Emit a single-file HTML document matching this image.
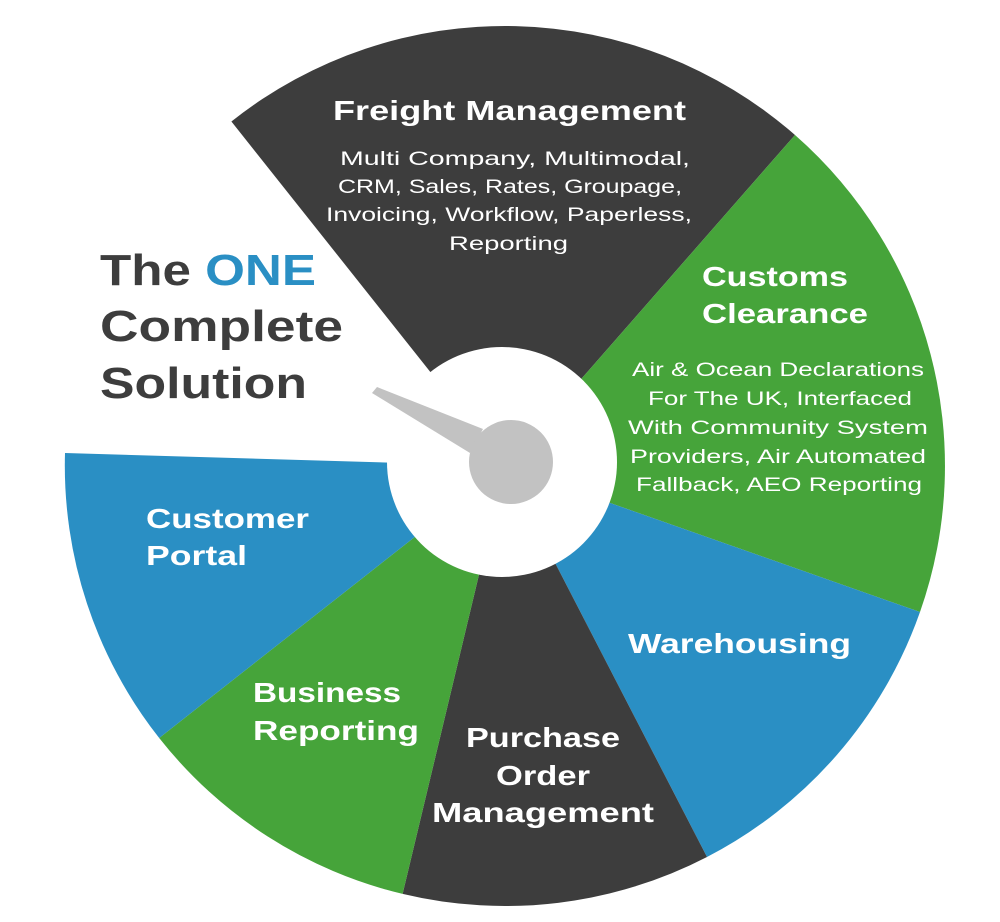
<!DOCTYPE html>
<html><head><meta charset="utf-8"><style>
html,body{margin:0;padding:0;background:#fff;}
svg{display:block}
text{font-family:"Liberation Sans",sans-serif;}
</style></head><body>
<svg width="1000" height="922" viewBox="0 0 1000 922" xmlns="http://www.w3.org/2000/svg">
<g>
<path d="M505,466 L231.4,121.5 A440,440 0 0 1 795,135 Z" fill="#3d3d3d"/>
<path d="M505,466 L795,135 A440,440 0 0 1 920,612 Z" fill="#46a43a"/>
<path d="M505,466 L920,612 A440,440 0 0 1 707,857 Z" fill="#2a8fc4"/>
<path d="M505,466 L707,857 A440,440 0 0 1 402.6,893.9 Z" fill="#3d3d3d"/>
<path d="M505,466 L402.6,893.9 A440,440 0 0 1 159.2,738 Z" fill="#46a43a"/>
<path d="M505,466 L159.2,738 A440,440 0 0 1 65,453 Z" fill="#2a8fc4"/>
</g>
<circle cx="502" cy="462" r="115" fill="#fff"/>
<polygon points="372,393 377,387 483,429 470,453" fill="#c2c2c2"/>
<circle cx="511" cy="462" r="42" fill="#c2c2c2"/>

<g fill="#fff" font-weight="bold" font-size="28">
<text x="333" y="120" textLength="353" lengthAdjust="spacingAndGlyphs">Freight Management</text>
<text x="702" y="286" textLength="146" lengthAdjust="spacingAndGlyphs">Customs</text>
<text x="702" y="323" textLength="166" lengthAdjust="spacingAndGlyphs">Clearance</text>
<text x="146" y="528" textLength="163" lengthAdjust="spacingAndGlyphs">Customer</text>
<text x="146" y="565" textLength="101" lengthAdjust="spacingAndGlyphs">Portal</text>
<text x="628" y="653" textLength="223" lengthAdjust="spacingAndGlyphs">Warehousing</text>
<text x="253" y="702" textLength="148" lengthAdjust="spacingAndGlyphs">Business</text>
<text x="253" y="740" textLength="166" lengthAdjust="spacingAndGlyphs">Reporting</text>
<text x="466" y="747" textLength="154" lengthAdjust="spacingAndGlyphs">Purchase</text>
<text x="496" y="785" textLength="94" lengthAdjust="spacingAndGlyphs">Order</text>
<text x="432" y="822" textLength="222" lengthAdjust="spacingAndGlyphs">Management</text>
</g>
<g fill="#fff" font-size="19">
<text x="340" y="165" textLength="350" lengthAdjust="spacingAndGlyphs">Multi Company, Multimodal,</text>
<text x="338" y="193" textLength="344" lengthAdjust="spacingAndGlyphs">CRM, Sales, Rates, Groupage,</text>
<text x="326" y="221" textLength="366" lengthAdjust="spacingAndGlyphs">Invoicing, Workflow, Paperless,</text>
<text x="449" y="250" textLength="119" lengthAdjust="spacingAndGlyphs">Reporting</text>
<text x="632" y="376" textLength="292" lengthAdjust="spacingAndGlyphs">Air &amp; Ocean Declarations</text>
<text x="648" y="405" textLength="264" lengthAdjust="spacingAndGlyphs">For The UK, Interfaced</text>
<text x="628" y="434" textLength="300" lengthAdjust="spacingAndGlyphs">With Community System</text>
<text x="630" y="463" textLength="296" lengthAdjust="spacingAndGlyphs">Providers, Air Automated</text>
<text x="636" y="491" textLength="286" lengthAdjust="spacingAndGlyphs">Fallback, AEO Reporting</text>
</g>
<g font-weight="bold" font-size="44" fill="#3d3d3d">
<text x="100" y="285" textLength="216" lengthAdjust="spacingAndGlyphs">The <tspan fill="#2a8fc4">ONE</tspan></text>
<text x="100" y="341" textLength="243" lengthAdjust="spacingAndGlyphs">Complete</text>
<text x="100" y="398" textLength="207" lengthAdjust="spacingAndGlyphs">Solution</text>
</g>
</svg>
</body></html>
